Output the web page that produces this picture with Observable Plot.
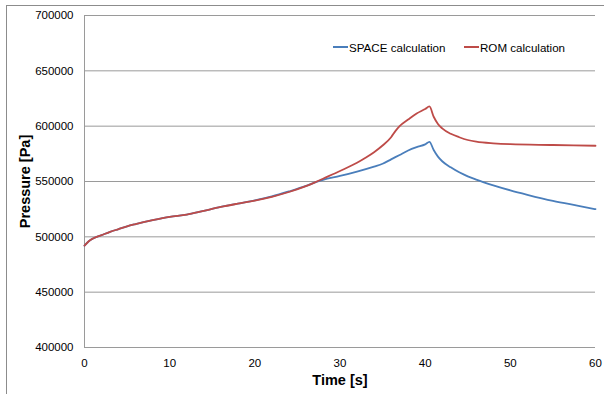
<!DOCTYPE html>
<html>
<head>
<meta charset="utf-8">
<script src="https://cdn.jsdelivr.net/npm/d3@7"></script>
<script src="https://cdn.jsdelivr.net/npm/@observablehq/plot@0.6"></script>
<style>
  html, body { margin: 0; padding: 0; background: #fff; overflow: hidden; }
  #wrap { position: relative; width: 604px; height: 394px; overflow: hidden; font-family: "Liberation Sans", Arial, sans-serif; }
  #frame { position: absolute; left: 6px; top: 5px; width: 640px; height: 440px; border: 1px solid #8c8c8c; box-sizing: border-box; pointer-events: none; }
  #chart { position: absolute; left: 0; top: 0; }
  .leg { position: absolute; top: 39px; height: 16px; font-size: 11.6px; color: #000; display: flex; align-items: center; white-space: nowrap; }
  .leg i { display: inline-block; width: 15px; height: 0; border-top: 2px solid; margin-right: 1px; }
</style>
</head>
<body>
<div id="wrap">
  <div id="frame"></div>
  <div id="chart"></div>
  <div class="leg" style="left:333px"><i style="border-color:#4A7EBB"></i><span>SPACE calculation</span></div>
  <div class="leg" style="left:464px"><i style="border-color:#BE4B48"></i><span>ROM calculation</span></div>
</div>
<script>
const seriesNames = ["SPACE calculation", "ROM calculation"];
const seriesColors = ["#4A7EBB", "#BE4B48"];
const xTicks = [0, 10, 20, 30, 40, 50, 60];
const yTicks = [400000, 450000, 500000, 550000, 600000, 650000, 700000];
const xTitle = "Time [s]";
const yTitle = "Pressure [Pa]";

const spaceTime = [0, 0.5, 1, 2, 3, 4, 5, 6, 8, 10, 12, 14, 16, 18, 20, 22, 24, 26, 27, 28, 30, 32, 34, 35, 36, 37, 38, 39, 40, 40.5, 41, 41.5, 42, 43, 44, 45, 46, 48, 50, 52, 55, 58, 60];
const spaceValues = [492000, 496000, 498500, 501500, 504500, 507000, 509500, 511500, 515000, 518000, 520000, 523500, 527000, 530000, 533000, 536500, 541000, 546000, 549000, 551500, 555000, 559000, 563500, 566000, 570000, 574000, 578000, 581000, 583500, 585800, 578500, 572500, 568300, 562800, 558300, 554700, 551700, 546500, 542000, 538000, 532500, 528000, 525000];

const romTime = [0, 0.5, 1, 2, 3, 4, 5, 6, 8, 10, 12, 14, 16, 18, 20, 22, 24, 26, 27, 28, 30, 32, 33, 34, 35, 36, 36.5, 37, 38, 39, 40, 40.5, 41, 41.5, 42, 43, 44, 45, 46, 48, 50, 55, 60];
const romValues = [492000, 496000, 498500, 501500, 504500, 507000, 509500, 511500, 515000, 518000, 520000, 523500, 527000, 530000, 532800, 536200, 540500, 545800, 549000, 552500, 559500, 567000, 571500, 576500, 582500, 590000, 595500, 600000, 606000, 611500, 615500, 617800, 608500, 602000, 598000, 593100, 590000, 587500, 586000, 584500, 583700, 583000, 582300];

const rows = [
  ...spaceTime.map((t, i) => ({ t, p: spaceValues[i], s: seriesNames[0] })),
  ...romTime.map((t, i) => ({ t, p: romValues[i], s: seriesNames[1] }))
];

const chart = Plot.plot({
  width: 604,
  height: 394,
  marginLeft: 84,
  marginRight: 9,
  marginTop: 15,
  marginBottom: 47,
  style: { fontFamily: "'Liberation Sans', Arial, sans-serif", fontSize: "11.5px", color: "#000", background: "transparent" },
  x: { domain: [0, 60], ticks: xTicks, label: null },
  y: { domain: [400000, 700000], ticks: yTicks, label: null },
  color: { domain: seriesNames, range: seriesColors },
  marks: [
    Plot.gridY(yTicks, { stroke: "#9a9a9a", strokeOpacity: 1, strokeWidth: 1 }),
    Plot.ruleX([0], { stroke: "#9a9a9a", strokeWidth: 1 }),
    Plot.axisX(xTicks, { tickSize: 0, tickPadding: 11, label: null, tickFormat: d => String(d) }),
    Plot.axisY(yTicks, { tickSize: 0, tickPadding: 11, label: null, tickFormat: d => String(d) }),
    Plot.line(rows, { x: "t", y: "p", z: "s", stroke: "s", strokeWidth: 1.8, curve: "monotone-x" }),
    Plot.text([xTitle], { frameAnchor: "bottom", lineAnchor: "middle", textAnchor: "middle", dy: 33, fontWeight: "bold", fontSize: 14.5 }),
    Plot.text([yTitle], { frameAnchor: "left", lineAnchor: "middle", textAnchor: "middle", dx: -59, rotate: -90, fontWeight: "bold", fontSize: 14.5 })
  ]
});
document.getElementById("chart").appendChild(chart);
</script>
</body>
</html>
